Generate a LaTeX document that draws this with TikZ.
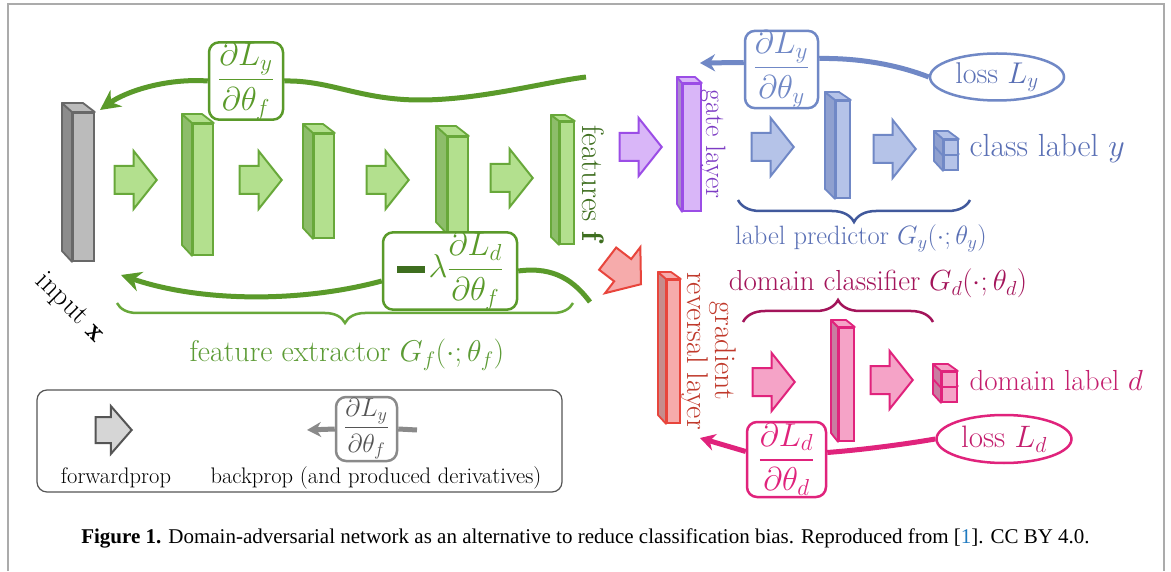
\RequirePackage{fix-cm}
\documentclass[tikz,border=0pt]{standalone}
\usepackage{amsmath}
\usepackage{amssymb}
\usepackage{fontspec}
\newfontfamily\captfont{Liberation Serif}
\usepackage{tikz}
\usetikzlibrary{shapes,arrows.meta,positioning,decorations.pathreplacing}

% colours
\definecolor{framegray}{HTML}{ABABAB}
\definecolor{citeblue}{HTML}{1F7AC0}
\definecolor{featline}{HTML}{68A83A}
\definecolor{featfill}{HTML}{B3E08E}
\definecolor{featside}{HTML}{8DBD6A}
\definecolor{featdark}{HTML}{3E6E1F}
\definecolor{feattext}{HTML}{5C9B35}
\definecolor{backgreen}{HTML}{5A9A2A}
\definecolor{inpline}{HTML}{686868}
\definecolor{inpfill}{HTML}{BBBBBB}
\definecolor{inpside}{HTML}{8C8C8C}
\definecolor{gateline}{HTML}{9B4DE6}
\definecolor{gatefill}{HTML}{D9B6F8}
\definecolor{gateside}{HTML}{A98CCB}
\definecolor{gatetext}{HTML}{7D3CC4}
\definecolor{predline}{HTML}{7088C6}
\definecolor{predfill}{HTML}{B5C3E8}
\definecolor{predside}{HTML}{8FA0CF}
\definecolor{predtext}{HTML}{5A70B5}
\definecolor{predbrace}{HTML}{41599C}
\definecolor{grlline}{HTML}{E8453C}
\definecolor{grlfill}{HTML}{F6ABAB}
\definecolor{grlside}{HTML}{C68C8C}
\definecolor{grltext}{HTML}{C0392B}
\definecolor{domline}{HTML}{E0237C}
\definecolor{domfill}{HTML}{F5A3C7}
\definecolor{domside}{HTML}{C97CA1}
\definecolor{domtext}{HTML}{C41F6E}
\definecolor{dombrace}{HTML}{A3145A}
\definecolor{legdark}{HTML}{555555}
\definecolor{legline}{HTML}{8A8A8A}
\definecolor{legfill}{HTML}{D6D6D6}

% layer: name, x, y (front top left), width, height, colour prefix, depth x, depth y
\newcommand{\layerbox}[8]{%
  \node[draw=#6line, fill=#6fill, line width=1.8pt, minimum width=#4pt, minimum height=#5pt, inner sep=0pt, anchor=north west] (#1) at (#2,#3) {};
  \draw[draw=#6line, fill=#6side, line width=1.8pt, line join=round] (#1.north west) -- ++(-#7,-#8) -- ++(0,#5) -- (#1.south west) -- cycle;
  \draw[draw=#6line, fill=#6fill, line width=1.8pt, line join=round] (#1.north west) -- ++(-#7,-#8) -- ++(#4,0) -- (#1.north east) -- cycle;
}

\begin{document}
\begin{tikzpicture}[x=1pt, y=-1pt,
    >={Stealth[length=20pt, width=20pt]},
    fwd/.style={single arrow, draw=#1line, fill=#1fill, line width=2pt, minimum height=42pt, inner xsep=0pt, inner ysep=13pt, single arrow head extend=15pt, single arrow tip angle=103, anchor=tip},
    gradbox/.style={draw=#1, text=#1, fill=white, rounded corners=10pt, line width=2.5pt, inner sep=0pt},
    lossnode/.style={ellipse, draw=#1, line width=2.5pt, inner sep=0pt, minimum width=134pt, minimum height=47pt},
    backline/.style={draw=#1, line width=5pt},
    bigfont/.style={font=\fontsize{32}{38}\selectfont},
    fracfont/.style={font=\fontsize{33}{40}\selectfont},
    midfont/.style={font=\fontsize{29}{35}\selectfont},
    smallfont/.style={font=\fontsize{22.5}{27}\selectfont},
    bracedown/.style={decorate, decoration={brace, mirror, amplitude=#1}, line width=2.5pt},
    braceup/.style={decorate, decoration={brace, amplitude=#1}, line width=2.5pt},
]
    % Frame
    \fill[white] (0,0) rectangle (1171,571);
    \draw[framegray, line width=2pt] (8,571) -- (8,4) -- (1164,4) -- (1164,571);

    % Input and feature extractor
    \layerbox{inputx}{72}{112}{21}{148}{inp}{10}{9}
    \layerbox{feat1}{192}{123}{20}{131}{feat}{10}{9}
    \layerbox{feat2}{313}{133}{20}{104}{feat}{10}{9}
    \layerbox{feat3}{447}{136}{20}{96}{feat}{11}{10}
    \layerbox{feat4}{559}{121}{14}{122}{feat}{8}{6}
    \node[fwd=feat] (fa1) at (158,180) {};
    \node[fwd=feat] (fa2) at (283,180) {};
    \node[fwd=feat] (fa3) at (410,180) {};
    \node[fwd=feat] (fa4) at (534,178) {};
    \node[rotate=-45, midfont] (inlbl) at (70,308) {input $\mathbf{x}$};
    \node[rotate=-90, font=\fontsize{31}{37}\selectfont, text=featdark] (featlbl) at (593,183) {features $\mathbf{f}$};

    % Label predictor
    \node[fwd=gate] (ga) at (663,147) {};
    \layerbox{gate}{682}{83}{18}{127}{gate}{5}{6}
    \node[rotate=-90, font=\fontsize{28}{33}\selectfont, text=gatetext] (gatelbl) at (713,144) {gate layer};
    \node[fwd=pred] (pa1) at (795,147) {};
    \layerbox{pred1}{835}{100}{14}{97}{pred}{10}{8}
    \node[fwd=pred] (pa2) at (917,149) {};
    \layerbox{ycube2}{943}{154}{14}{15}{pred}{9}{8}
    \layerbox{ycube1}{943}{139}{14}{15}{pred}{9}{8}
    \node[bigfont, text=predtext, anchor=base west] (ylbl) at (966,157) {class label $y$};

    % Domain classifier
    \node[fwd=grl, rotate=-37.5] (ra) at (642,285) {};
    \layerbox{grl}{666}{279}{13}{143}{grl}{8}{7}
    \node[rotate=-90, font=\fontsize{30}{23}\selectfont, text=grltext, align=center] (grllbl) at (709,351) {gradient\\reversal layer};
    \node[fwd=dom] (da1) at (796,382) {};
    \layerbox{dom1}{838}{327}{15}{113}{dom}{7}{7}
    \node[fwd=dom] (da2) at (914,380) {};
    \layerbox{dcube2}{941}{386}{15}{15}{dom}{8}{7}
    \layerbox{dcube1}{941}{371}{15}{15}{dom}{8}{7}
    \node[midfont, text=domtext, anchor=base west] (dlbl) at (966,390) {domain label $d$};

    % Braces
    \draw[featline, bracedown=20pt] (117,303) -- (573,303);
    \node[font=\fontsize{30}{36}\selectfont, text=feattext, anchor=base] (gflbl) at (347,362) {feature extractor $G_f(\cdot;\theta_f)$};
    \draw[predbrace, bracedown=22pt] (738,200) -- (970,200);
    \node[font=\fontsize{26.5}{32}\selectfont, text=predtext, anchor=base] (gylbl) at (861,245) {label predictor $G_y(\cdot;\theta_y)$};
    \draw[dombrace, braceup=22pt] (743,322) -- (933,322);
    \node[midfont, text=dombrace, anchor=base] (gdlbl) at (878,291) {domain classifier $G_d(\cdot;\theta_d)$};

    % Backprop from label loss
    \coordinate (ytail) at (586,77);
    \coordinate (xtip1) at (100,110);
    \node[gradbox=backgreen, minimum width=74pt, minimum height=76pt, fracfont] (gyf) at (246,81) {$\dfrac{\partial L_y}{\partial\theta_f}$};
    \draw[backline=backgreen] (ytail) .. controls (545,82) and (480,100) .. (420,100) .. controls (360,100) and (330,80) .. (gyf.east);
    \draw[backline=backgreen, ->] (gyf.west) .. controls (165,78) and (125,92) .. (xtip1);
    \node[lossnode=predline, font=\fontsize{30}{36}\selectfont, text=predtext] (lossy) at (997,77) {loss $L_y$};
    \node[gradbox=predline, minimum width=73pt, minimum height=75pt, fracfont] (gyy) at (781.5,69.5) {$\dfrac{\partial L_y}{\partial\theta_y}$};
    \coordinate (gtip) at (700,63);
    \draw[backline=predline] (lossy.west) .. controls (890,62) and (850,58) .. ([yshift=11pt]gyy.east);
    \draw[backline=predline, -{Stealth[length=15pt, width=17pt]}] ([yshift=7pt]gyy.west) -- (gtip);

    % Backprop from domain loss
    \coordinate (dtail) at (590,302);
    \coordinate (xtip2) at (121,275);
    \node[gradbox=backgreen, minimum width=134pt, minimum height=72pt, fracfont] (lamb) at (450,271) {$\textcolor{featdark}{\rule[0.14em]{0.85em}{0.21em}}\mkern2mu\lambda\dfrac{\partial L_d}{\partial\theta_f}$};
    \draw[backline=backgreen] (dtail) .. controls (575,282) and (555,266) .. (lamb.east);
    \draw[backline=backgreen, ->] ([yshift=-10pt]lamb.west) .. controls (300,303) and (200,302) .. (xtip2);
    \node[lossnode=domline, font=\fontsize{31}{37}\selectfont, text=domtext, minimum width=135pt, minimum height=48pt] (lossd) at (1004,439) {loss $L_d$};
    \node[gradbox=domline, minimum width=79pt, minimum height=75pt, fracfont] (gdd) at (786.5,459.5) {$\dfrac{\partial L_d}{\partial\theta_d}$};
    \coordinate (dtip) at (700,438);
    \draw[backline=domline] (lossd.west) .. controls (900,445) and (860,450) .. ([yshift=7pt]gdd.east);
    \draw[backline=domline, -{Stealth[length=15pt, width=17pt]}] ([yshift=8pt]gdd.west) -- (dtip);

    % Legend
    \node[draw=legdark, line width=1.2pt, rounded corners=10pt, minimum width=525pt, minimum height=102pt] (legend) at (299.5,441) {};
    \node[single arrow, draw=legdark, fill=legfill, line width=2pt, minimum height=36pt, inner xsep=0pt, inner ysep=12pt, single arrow head extend=11pt, single arrow tip angle=98, anchor=tip] (legfwd) at (133,430) {};
    \node[smallfont, anchor=base] (fwdlbl) at (116,483) {forwardprop};
    \node[gradbox=legline, text=legdark, minimum width=61pt, minimum height=64pt, font=\fontsize{26}{31}\selectfont] (legbox) at (366.5,429) {$\dfrac{\partial L_y}{\partial\theta_f}$};
    \coordinate (legtip) at (307,430);
    \coordinate (legtail) at (417,430);
    \draw[backline=legline, -{Stealth[length=14pt, width=15pt]}] (legbox.west) -- (legtip);
    \draw[backline=legline] (legbox.east) -- (legtail);
    \node[smallfont, anchor=base] (bwdlbl) at (376,483) {backprop (and produced derivatives)};

    % Caption
    \node[font=\captfont\fontsize{21}{25}\selectfont, anchor=base] (capt) at (585.5,543) {\textbf{Figure 1.} Domain-adversarial network as an alternative to reduce classification bias. Reproduced from [\textcolor{citeblue}{1}]. CC BY 4.0.};
\end{tikzpicture}
\end{document}
